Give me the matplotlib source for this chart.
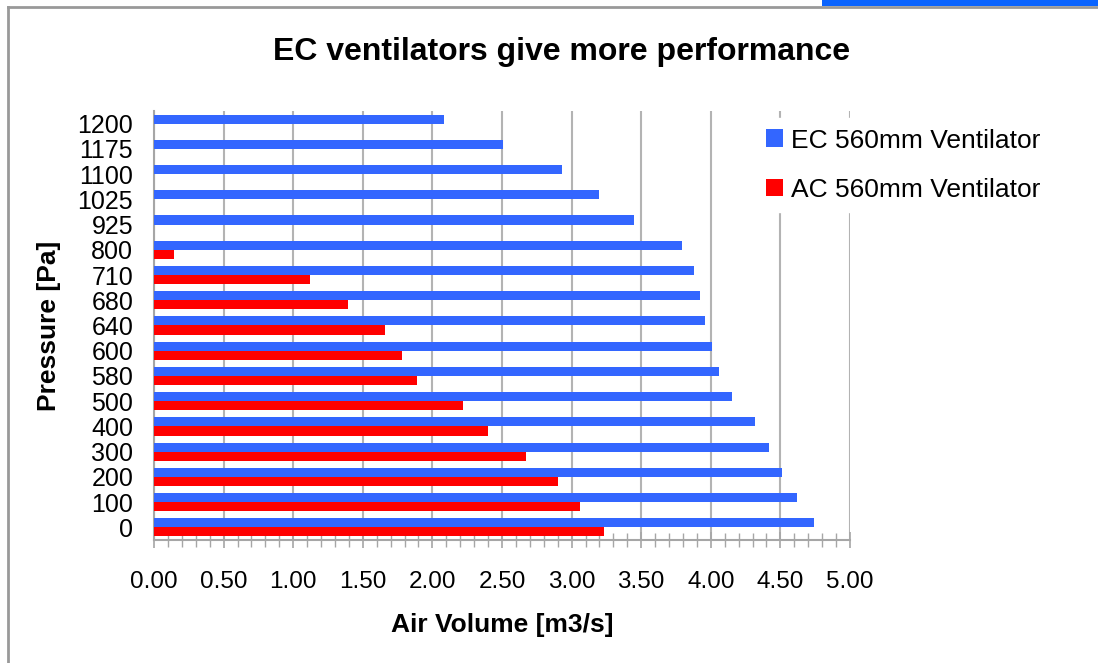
import numpy as np
import matplotlib
matplotlib.use("Agg")
import matplotlib.pyplot as plt
from matplotlib.patches import Rectangle
from matplotlib.lines import Line2D
from matplotlib.ticker import MultipleLocator, FormatStrFormatter

plt.rcParams['font.family'] = ['Liberation Sans', 'DejaVu Sans']

# DATA
pressure = ['0', '100', '200', '300', '400', '500', '580', '600', '640',
            '680', '710', '800', '925', '1025', '1100', '1175', '1200']
ec_volume = [4.74, 4.62, 4.51, 4.42, 4.32, 4.15, 4.06, 4.01, 3.96,
             3.92, 3.88, 3.79, 3.45, 3.20, 2.93, 2.51, 2.08]
ac_volume = [3.23, 3.06, 2.90, 2.67, 2.40, 2.22, 1.89, 1.78, 1.66,
             1.39, 1.12, 0.14, 0, 0, 0, 0, 0]
x_ticks = [0, 0.5, 1.0, 1.5, 2.0, 2.5, 3.0, 3.5, 4.0, 4.5, 5.0]

BLUE = '#3366ff'
RED = '#ff0000'
GRID = '#b3b3b3'

fig = plt.figure(figsize=(10.98, 6.63), dpi=100)
ax = fig.add_axes([0.1403, 0.1855, 0.6338, 0.6471])

y = np.arange(len(pressure))
h = 0.36
ax.barh(y + h / 2, ec_volume, height=h, color=BLUE, label='EC 560mm Ventilator', zorder=3)
ax.barh(y - h / 2, ac_volume, height=h, color=RED, label='AC 560mm Ventilator', zorder=3)

ax.set_ylim(-0.5, len(pressure) - 0.5)
ax.set_xlim(0, 5)
ax.set_yticks(y)
ax.set_yticklabels(pressure)
ax.set_xticks(x_ticks)
ax.xaxis.set_major_formatter(FormatStrFormatter('%.2f'))
ax.xaxis.set_minor_locator(MultipleLocator(0.1))

# GRID VERTICAL
ax.grid(axis='x', which='major', color=GRID, lw=1.5, zorder=0)
ax.set_axisbelow(True)

for s in ['top', 'right']:
    ax.spines[s].set_visible(False)
for s in ['left', 'bottom']:
    ax.spines[s].set_color('#a6a6a6')
    ax.spines[s].set_linewidth(1.5)

ax.tick_params(axis='y', length=0, pad=15, labelsize=18)
ax.tick_params(axis='x', which='major', direction='inout', length=12, width=1.2,
               color='#a6a6a6', pad=16, labelsize=17.5)
ax.tick_params(axis='x', which='minor', direction='inout', length=10, width=1.0,
               color='#a6a6a6')

ax.set_xlabel('Air Volume [m3/s]', fontsize=19, fontweight='bold', labelpad=15)
ax.set_ylabel('Pressure [Pa]', fontsize=19, fontweight='bold', labelpad=12)

fig.text(0.511, 0.922, 'EC ventilators give more performance', ha='center', va='center',
         fontsize=23, fontweight='bold')

leg = ax.legend(loc='upper left', bbox_to_anchor=(755 / 1098, 1 - 118 / 663),
                bbox_transform=fig.transFigure, fontsize=19, frameon=True,
                fancybox=False, edgecolor='white', facecolor='white', framealpha=1,
                handlelength=0.65, handleheight=0.65, handletextpad=0.3,
                labelspacing=0.95, borderpad=0.4, borderaxespad=0)
leg.set_zorder(5)

# CHART FRAME AND BLUE STRIP
fig.add_artist(Line2D([8 / 1098, 8 / 1098], [0, 1 - 7 / 663], color='#999999', lw=2))
fig.add_artist(Line2D([8 / 1098, 1], [1 - 7 / 663, 1 - 7 / 663], color='#999999', lw=2))
fig.add_artist(Rectangle((822 / 1098, 1 - 6 / 663), 276 / 1098, 6 / 663,
                         facecolor='#0a64ff', edgecolor='none', transform=fig.transFigure))

fig.savefig('out.png', dpi=100)
